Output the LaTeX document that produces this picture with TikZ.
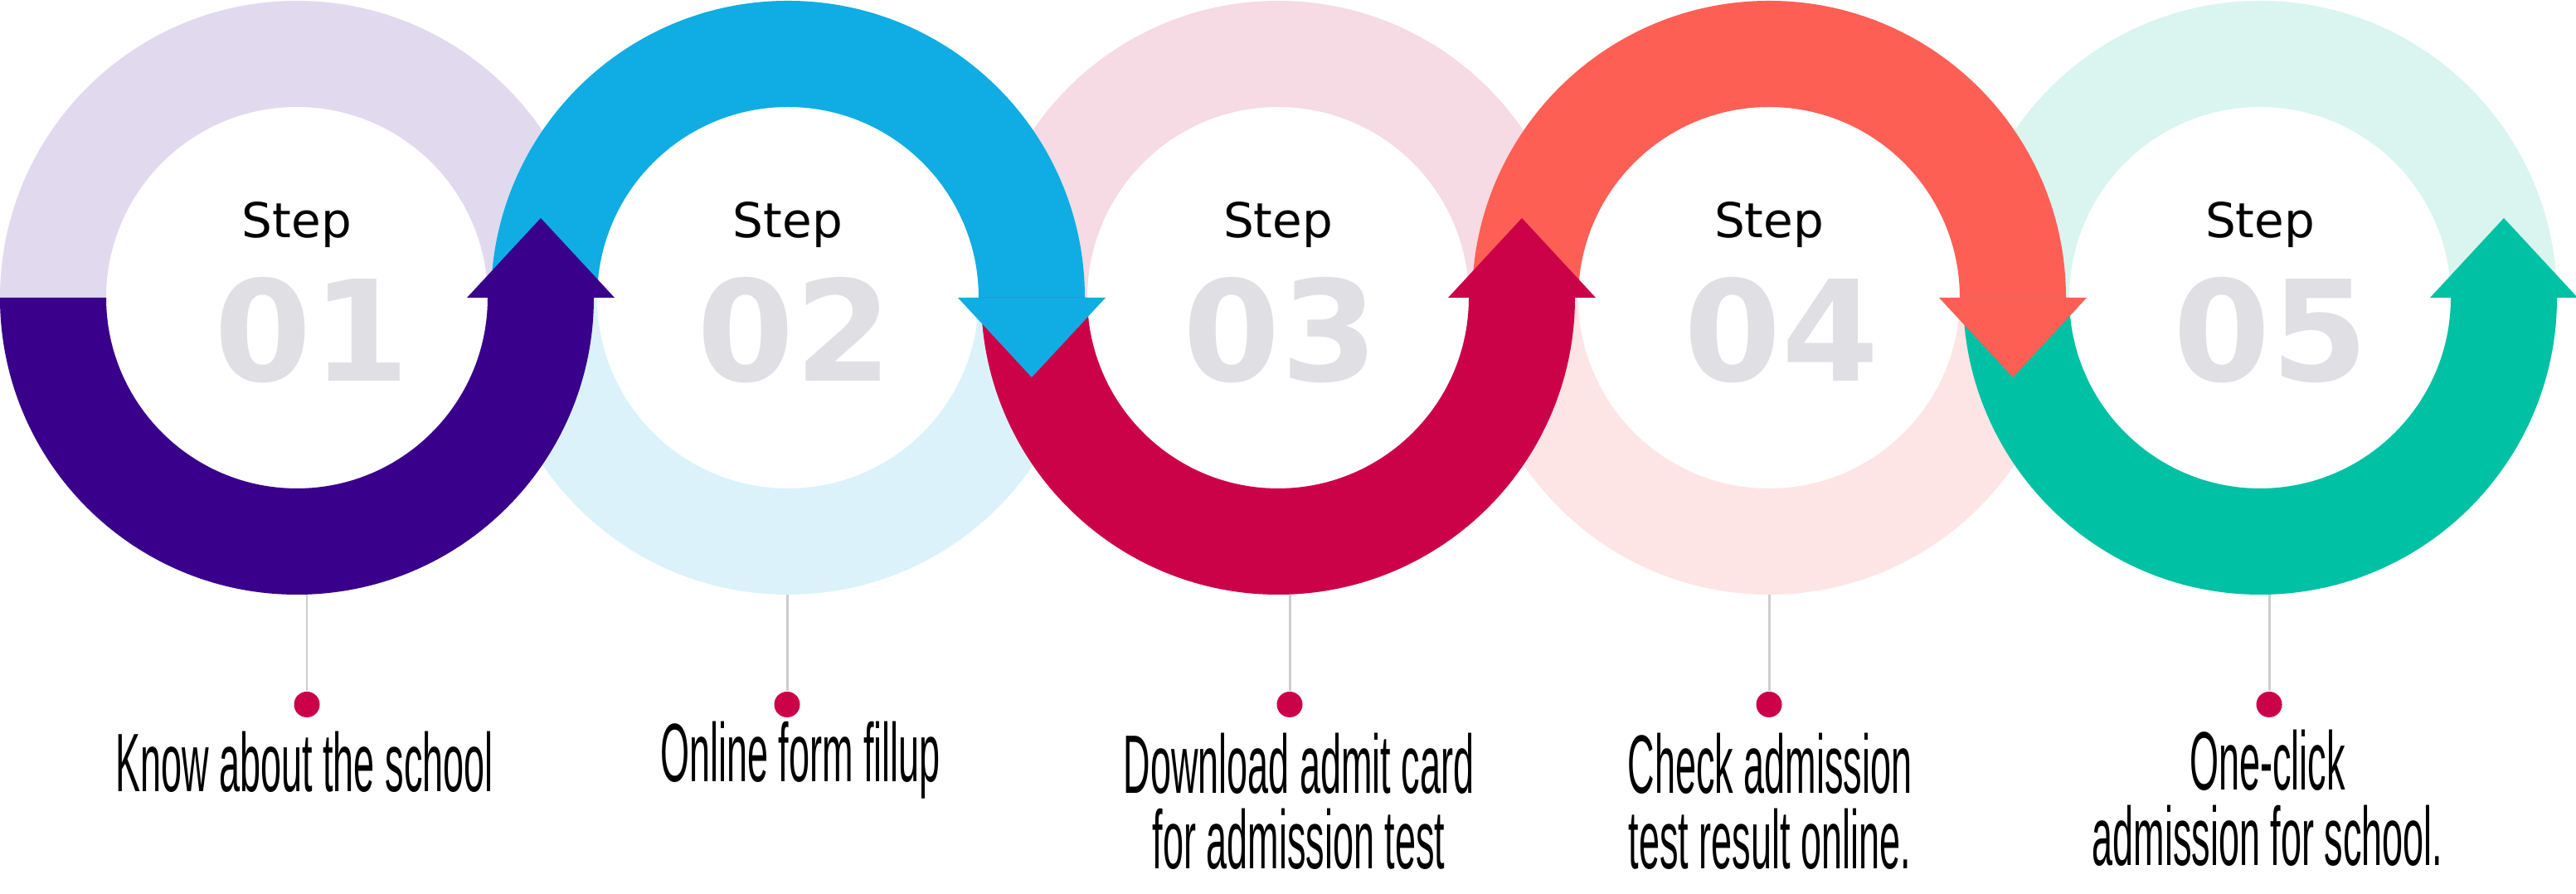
\documentclass[tikz,border=0pt]{standalone}
\usepackage{fontspec}
\usetikzlibrary{positioning,calc}
\newfontfamily\stepfont{DejaVu Sans}
\newfontfamily\labelfont[FakeStretch=0.45]{Liberation Sans}

\definecolor{purpledk}{HTML}{39008C}
\definecolor{purplelt}{HTML}{E1DAEF}
\definecolor{bluedk}{HTML}{0FADE3}
\definecolor{bluelt}{HTML}{DBF2FA}
\definecolor{crimson}{HTML}{CC0249}
\definecolor{pinklt}{HTML}{F6DAE4}
\definecolor{coral}{HTML}{FE5F55}
\definecolor{corallt}{HTML}{FEE5E5}
\definecolor{tealdk}{HTML}{00C1A3}
\definecolor{teallt}{HTML}{DAF5EF}
\definecolor{numgray}{HTML}{E0DFE4}
\definecolor{stemgray}{HTML}{CDCDCD}

\begin{document}
\begin{tikzpicture}
		% styles
		\tikzset{
			ring/.style={even odd rule},
			stepword/.style={font=\stepfont\fontsize{16.5}{18}\selectfont, anchor=base, inner sep=0pt},
			stepnum/.style={font=\stepfont\bfseries\fontsize{48}{50}\selectfont, text=numgray, anchor=base, inner sep=0pt},
			caption/.style={font=\labelfont\fontsize{28.45}{26}\selectfont, align=center, anchor=base, inner sep=0pt},
			bead/.style={circle, fill=crimson, minimum size=3.1mm, inner sep=0pt},
			stem/.style={draw=stemgray, line width=0.85pt}
		}
		\useasboundingbox (0,0) rectangle (31.06,10.78);

		% centres
		\coordinate (c1) at (3.58,7.19);
		\coordinate (c2) at (9.50,7.19);
		\coordinate (c3) at (15.41,7.19);
		\coordinate (c4) at (21.33,7.19);
		\coordinate (c5) at (27.25,7.19);

		% light rings
		\fill[purplelt, ring] (c1) circle (3.58) (c1) circle (2.30);
		\fill[bluelt, ring] (c2) circle (3.58) (c2) circle (2.30);
		\fill[pinklt, ring] (c3) circle (3.58) (c3) circle (2.30);
		\fill[corallt, ring] (c4) circle (3.58) (c4) circle (2.30);
		\fill[teallt, ring] (c5) circle (3.58) (c5) circle (2.30);

		% half rings (bottom, top, bottom, top, bottom)
		\fill[purpledk] ([xshift=-3.58cm]c1) arc (180:360:3.58) -- ([xshift=2.30cm]c1) arc (0:-180:2.30) -- cycle;
		\fill[bluedk] ([xshift=-3.58cm]c2) arc (180:0:3.58) -- ([xshift=2.30cm]c2) arc (0:180:2.30) -- cycle;
		\fill[crimson] ([xshift=-3.58cm]c3) arc (180:360:3.58) -- ([xshift=2.30cm]c3) arc (0:-180:2.30) -- cycle;
		\fill[coral] ([xshift=-3.58cm]c4) arc (180:0:3.58) -- ([xshift=2.30cm]c4) arc (0:180:2.30) -- cycle;
		\fill[tealdk] ([xshift=-3.58cm]c5) arc (180:360:3.58) -- ([xshift=2.30cm]c5) arc (0:-180:2.30) -- cycle;

		% arrow heads
		\fill[purpledk] ([xshift=2.05cm]c1) -- ([xshift=2.94cm, yshift=0.96cm]c1) -- ([xshift=3.83cm]c1) -- cycle;
		\fill[bluedk] ([xshift=2.05cm]c2) -- ([xshift=2.94cm, yshift=-0.96cm]c2) -- ([xshift=3.83cm]c2) -- cycle;
		\fill[crimson] ([xshift=2.05cm]c3) -- ([xshift=2.94cm, yshift=0.96cm]c3) -- ([xshift=3.83cm]c3) -- cycle;
		\fill[coral] ([xshift=2.05cm]c4) -- ([xshift=2.94cm, yshift=-0.96cm]c4) -- ([xshift=3.83cm]c4) -- cycle;
		\fill[tealdk] ([xshift=2.05cm]c5) -- ([xshift=2.94cm, yshift=0.96cm]c5) -- ([xshift=3.83cm]c5) -- cycle;

		% step texts
		\node[stepword] (step1) at ([yshift=0.72cm]c1) {Step};
		\node[stepword] (step2) at ([yshift=0.72cm]c2) {Step};
		\node[stepword] (step3) at ([yshift=0.72cm]c3) {Step};
		\node[stepword] (step4) at ([yshift=0.72cm]c4) {Step};
		\node[stepword] (step5) at ([yshift=0.72cm]c5) {Step};
		\node[stepnum] (num1) at ([xshift=0.18cm, yshift=-1.01cm]c1) {01};
		\node[stepnum] (num2) at ([xshift=0.08cm, yshift=-1.01cm]c2) {02};
		\node[stepnum] (num3) at ([xshift=0.03cm, yshift=-1.01cm]c3) {03};
		\node[stepnum] (num4) at ([xshift=0.15cm, yshift=-1.01cm]c4) {04};
		\node[stepnum] (num5) at ([xshift=0.13cm, yshift=-1.01cm]c5) {05};

		% beads and captions
		\coordinate (top1) at (3.70,3.61);
		\coordinate (top2) at (9.49,3.61);
		\coordinate (top3) at (15.55,3.61);
		\coordinate (top4) at (21.33,3.61);
		\coordinate (top5) at (27.36,3.61);
		\node[bead] (dot1) at (3.70,2.285) {};
		\node[bead] (dot2) at (9.49,2.285) {};
		\node[bead] (dot3) at (15.55,2.285) {};
		\node[bead] (dot4) at (21.33,2.285) {};
		\node[bead] (dot5) at (27.36,2.285) {};

		\node[caption] (lbl1) at (3.67,1.23) {Know about the school};
		\node[caption] (lbl2) at (9.65,1.35) {Online form fillup};
		\node[caption] (lbl3) at (15.66,0.30) {Download admit card\\for admission test};
		\node[caption] (lbl4) at (21.34,0.30) {Check admission\\test result online.};
		\node[caption] (lbl5) at (27.34,0.34) {One-click\\admission for school.};

		% connections
		\draw[stem] (top1) -- (dot1);
		\draw[stem] (top2) -- (dot2);
		\draw[stem] (top3) -- (dot3);
		\draw[stem] (top4) -- (dot4);
		\draw[stem] (top5) -- (dot5);

\end{tikzpicture}
\end{document}
